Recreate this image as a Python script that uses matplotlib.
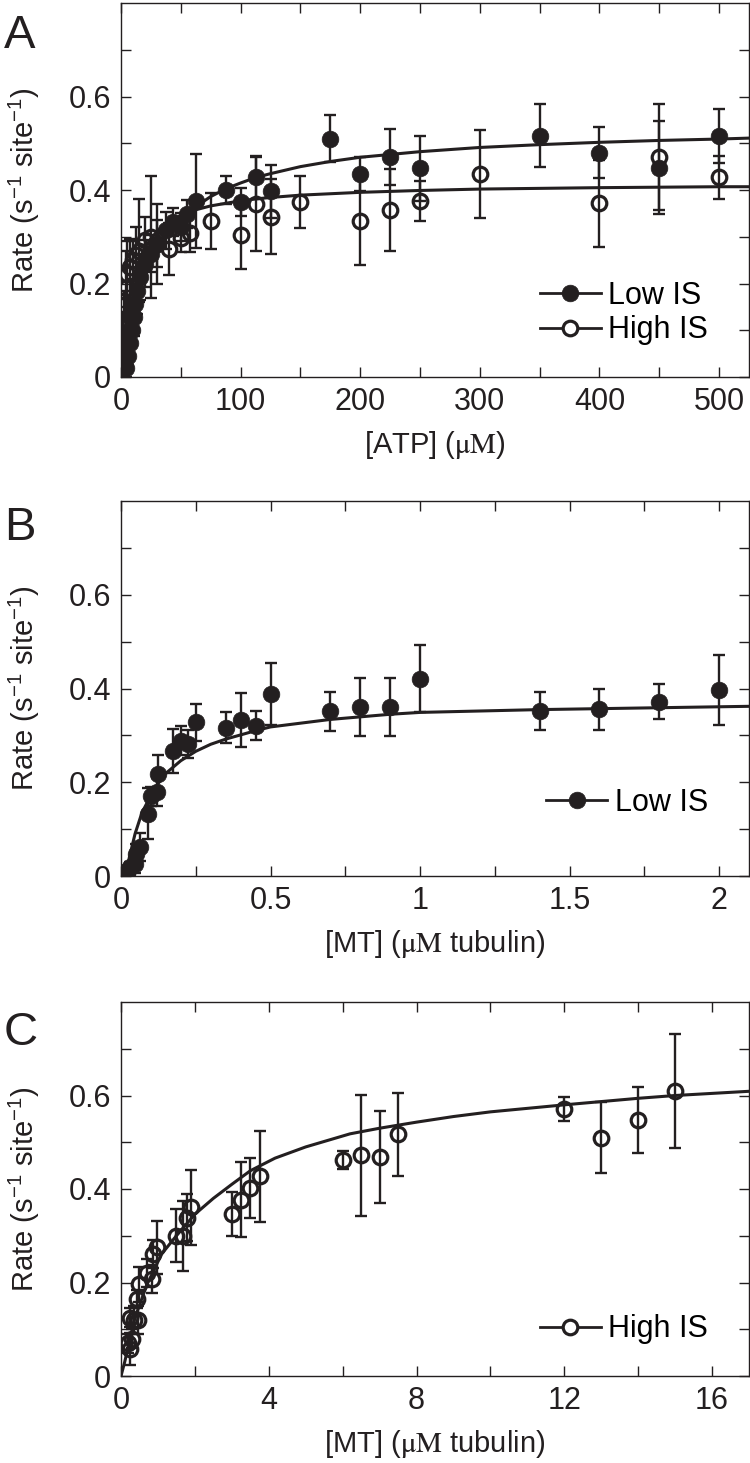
"""Three-panel kinetics figure: ATPase rate vs [ATP] and vs [MT]."""

import matplotlib

matplotlib.use("Agg")
import matplotlib.pyplot as plt
from matplotlib.lines import Line2D
from matplotlib.ticker import FixedLocator, FuncFormatter

INK = "#231f20"

plt.rcParams["font.family"] = ["Liberation Sans", "DejaVu Sans"]
plt.rcParams["mathtext.fontset"] = "stix"
plt.rcParams["mathtext.default"] = "regular"

# ---- panel A: rate vs [ATP] (uM) ----
a_low_x = [4, 6, 7.5, 9, 10.5, 12, 13.5, 16, 20, 25, 30, 37.5, 43.75, 50, 55, 62.5,
           87.5, 100, 112.5, 125, 175, 200, 225, 250, 350, 400, 450, 500]
a_low_y = [0.02, 0.045, 0.072, 0.10, 0.128, 0.157, 0.185, 0.214, 0.242, 0.264, 0.285,
           0.314, 0.331, 0.32, 0.349, 0.377, 0.40, 0.374, 0.427, 0.397, 0.51, 0.434,
           0.471, 0.446, 0.516, 0.48, 0.448, 0.515]
a_low_err = [0.02, 0.02, 0.03, 0.03, 0.04, 0.04, 0.05, 0.05, 0.05, 0.04, 0.05, 0.04,
             0.03, 0.03, 0.03, 0.1, 0.03, 0.03, 0.046, 0.057, 0.05, 0.036, 0.06, 0.07,
             0.067, 0.054, 0.1, 0.058]

a_high_x = [1, 1.5, 2, 2.5, 4, 5, 7.5, 10, 12.5, 15, 20, 25, 30, 40, 50, 57.5, 75,
            100, 112.5, 125, 150, 200, 225, 250, 300, 400, 450, 500]
a_high_y = [0.028, 0.065, 0.105, 0.155, 0.19, 0.22, 0.235, 0.25, 0.26, 0.27, 0.292,
            0.30, 0.285, 0.274, 0.298, 0.308, 0.333, 0.304, 0.37, 0.343, 0.374, 0.333,
            0.357, 0.376, 0.434, 0.372, 0.47, 0.427]
a_high_err = [0.015, 0.02, 0.03, 0.03, 0.08, 0.07, 0.06, 0.04, 0.06, 0.11, 0.05, 0.13,
              0.085, 0.056, 0.03, 0.04, 0.06, 0.074, 0.1, 0.08, 0.056, 0.094, 0.088,
              0.043, 0.094, 0.093, 0.113, 0.046]

# fitted curves
a_fit_low_x = [0, 2.5, 5, 10, 15, 20, 25, 30, 40, 50, 60, 75, 88, 100, 113, 125, 150,
               175, 200, 225, 250, 300, 350, 400, 450, 500, 525]
a_fit_low_y = [0, 0.042, 0.077, 0.135, 0.18, 0.216, 0.245, 0.27, 0.309, 0.338, 0.36,
               0.386, 0.403, 0.415, 0.427, 0.435, 0.45, 0.461, 0.47, 0.476, 0.482,
               0.491, 0.497, 0.502, 0.506, 0.509, 0.511]
a_fit_high_x = [0, 2.5, 5, 10, 15, 20, 25, 30, 40, 50, 60, 75, 100, 113, 125, 150, 200,
                225, 250, 300, 400, 450, 500, 525]
a_fit_high_y = [0, 0.083, 0.138, 0.208, 0.249, 0.277, 0.296, 0.311, 0.332, 0.346,
                0.356, 0.366, 0.377, 0.381, 0.384, 0.389, 0.395, 0.397, 0.399, 0.402,
                0.405, 0.406, 0.407, 0.407]

# ---- panel B: rate vs [MT], low ionic strength ----
b_x = [0.02, 0.025, 0.03, 0.047, 0.05, 0.064, 0.09, 0.1, 0.12, 0.125, 0.175, 0.2,
       0.225, 0.25, 0.35, 0.4, 0.45, 0.5, 0.7, 0.8, 0.9, 1.0, 1.4, 1.6, 1.8, 2.0]
b_y = [0.005, 0.012, 0.02, 0.026, 0.048, 0.062, 0.133, 0.17, 0.179, 0.218, 0.267,
       0.289, 0.282, 0.328, 0.316, 0.333, 0.321, 0.388, 0.351, 0.361, 0.36, 0.421,
       0.352, 0.356, 0.372, 0.397]
b_err = [0.005, 0.01, 0.01, 0.02, 0.02, 0.03, 0.055, 0.02, 0.03, 0.04, 0.047, 0.03,
         0.03, 0.04, 0.033, 0.058, 0.031, 0.066, 0.042, 0.062, 0.062, 0.071, 0.04,
         0.044, 0.037, 0.074]
b_fit_x = [0.013, 0.03, 0.047, 0.07, 0.1, 0.125, 0.15, 0.2, 0.25, 0.3, 0.35, 0.45,
           0.5, 0.7, 0.9, 1.0, 1.4, 1.6, 1.8, 2.0, 2.1]
b_fit_y = [0.0, 0.045, 0.09, 0.135, 0.172, 0.198, 0.219, 0.246, 0.266, 0.281, 0.292,
           0.31, 0.318, 0.334, 0.345, 0.349, 0.355, 0.357, 0.359, 0.361, 0.362]

# ---- panel C: rate vs [MT], high ionic strength ----
c_x = [0.2, 0.25, 0.3, 0.25, 0.35, 0.45, 0.42, 0.5, 0.7, 0.83, 0.875, 0.97, 1.5,
       1.69, 1.78, 1.9, 3.0, 3.25, 3.5, 3.75, 6.0, 6.5, 7.0, 7.5, 12, 13, 14, 15]
c_y = [0.07, 0.058, 0.08, 0.125, 0.12, 0.12, 0.165, 0.196, 0.22, 0.208, 0.261, 0.275,
       0.30, 0.30, 0.339, 0.361, 0.346, 0.377, 0.403, 0.427, 0.462, 0.472, 0.469,
       0.517, 0.571, 0.51, 0.547, 0.609]
c_err = [0.02, 0.035, 0.02, 0.02, 0.03, 0.03, 0.02, 0.037, 0.03, 0.03, 0.03, 0.057,
         0.057, 0.075, 0.05, 0.08, 0.047, 0.08, 0.064, 0.097, 0.02, 0.13, 0.098, 0.089,
         0.025, 0.076, 0.071, 0.122]
c_fit_x = [0, 0.1, 0.38, 0.7, 1.1, 1.5, 2.0, 2.5, 3.0, 3.5, 4.17, 5, 6.2, 7, 8, 9, 10,
           12, 14, 15, 17]
c_fit_y = [0, 0.03, 0.125, 0.195, 0.261, 0.3, 0.346, 0.38, 0.41, 0.439, 0.466, 0.49,
           0.518, 0.53, 0.543, 0.555, 0.565, 0.58, 0.594, 0.6, 0.609]

Y_MAJOR = [0, 0.2, 0.4, 0.6]
Y_MINOR = [0.1, 0.3, 0.5, 0.7]
YLABEL = "Rate (s$^{-1}$ site$^{-1}$)"

FS = 22
FS_LABEL = 21
MS_FILLED = 12
MS_OPEN = 10.5


def style(ax, xlim, xmajor, xminor):
    ax.set_xlim(*xlim)
    ax.set_ylim(0, 0.8)
    ax.xaxis.set_major_locator(FixedLocator(xmajor))
    ax.xaxis.set_minor_locator(FixedLocator(xminor))
    ax.yaxis.set_major_locator(FixedLocator(Y_MAJOR))
    ax.yaxis.set_minor_locator(FixedLocator(Y_MINOR))
    fmt = FuncFormatter(lambda v, _: f"{v:g}")
    ax.xaxis.set_major_formatter(fmt)
    ax.yaxis.set_major_formatter(fmt)
    for side in ax.spines.values():
        side.set_linewidth(1.0)
        side.set_color(INK)
    ax.tick_params(which="both", direction="in", top=True, right=True,
                   length=7, width=1.0, color=INK, labelsize=FS, labelcolor=INK)
    ax.tick_params(axis="x", pad=7)
    ax.tick_params(axis="y", pad=7)
    ax.set_ylabel(YLABEL, fontsize=FS_LABEL, color=INK)
    ax.yaxis.set_label_coords(-0.125, 0.5)
    ax.xaxis.set_label_coords(0.5, -0.14)


def series(ax, x, y, err, filled):
    ax.errorbar(x, y, yerr=err, fmt="none", ecolor=INK, elinewidth=1.7,
                capsize=4, capthick=1.7, zorder=2)
    if filled:
        ax.plot(x, y, "o", ms=MS_FILLED, mfc=INK, mec=INK, mew=0.5,
                ls="none", zorder=3)
    else:
        ax.plot(x, y, "o", ms=MS_OPEN, mfc="none", mec=INK, mew=2.3,
                ls="none", zorder=3)


def handle(filled):
    if filled:
        return Line2D([], [], color=INK, lw=2, marker="o", ms=MS_FILLED,
                      mfc=INK, mec=INK, mew=0.5)
    return Line2D([], [], color=INK, lw=2, marker="o", ms=MS_OPEN,
                  mfc="white", mec=INK, mew=2.3)


def legend(ax, handles, labels, anchor):
    ax.legend(handles, labels, loc="lower right", bbox_to_anchor=anchor,
              frameon=False, fontsize=FS, handlelength=2.0, handletextpad=0.25,
              labelspacing=0.15, borderaxespad=0, borderpad=0)


fig = plt.figure(figsize=(7.5, 14.63), dpi=100)
W, H = 750, 1463
left = 121 / W
width = 628 / W

ax_a = fig.add_axes([left, (H - 377) / H, width, 374 / H])
ax_b = fig.add_axes([left, (H - 876) / H, width, 375 / H])
ax_c = fig.add_axes([left, (H - 1376) / H, width, 374 / H])

# A
ax_a.plot(a_fit_low_x, a_fit_low_y, color=INK, lw=2.2, zorder=2.5)
ax_a.plot(a_fit_high_x, a_fit_high_y, color=INK, lw=2.2, zorder=2.5)
series(ax_a, a_high_x, a_high_y, a_high_err, filled=False)
series(ax_a, a_low_x, a_low_y, a_low_err, filled=True)
style(ax_a, (0, 525), [0, 100, 200, 300, 400, 500], [50, 150, 250, 350, 450])
ax_a.set_xlabel(r"[ATP] ($\mathrm{\mu M}$)", fontsize=FS_LABEL, color=INK)
legend(ax_a, [handle(True), handle(False)], ["Low IS", "High IS"], (0.935, 0.085))

# B
ax_b.plot(b_fit_x, b_fit_y, color=INK, lw=2.2, zorder=2.5)
series(ax_b, b_x, b_y, b_err, filled=True)
style(ax_b, (0, 2.1), [0, 0.5, 1, 1.5, 2], [0.25, 0.75, 1.25, 1.75])
ax_b.set_xlabel(r"[MT] ($\mathrm{\mu M}$ tubulin)", fontsize=FS_LABEL, color=INK)
legend(ax_b, [handle(True)], ["Low IS"], (0.935, 0.155))

# C
ax_c.plot(c_fit_x, c_fit_y, color=INK, lw=2.2, zorder=2.5)
series(ax_c, c_x, c_y, c_err, filled=False)
style(ax_c, (0, 17), [0, 4, 8, 12, 16], [2, 6, 10, 14])
ax_c.set_xlabel(r"[MT] ($\mathrm{\mu M}$ tubulin)", fontsize=FS_LABEL, color=INK)
legend(ax_c, [handle(False)], ["High IS"], (0.935, 0.085))

for letter, base in (("A", 48), ("B", 540), ("C", 1045)):
    fig.text(4 / W, 1 - base / H, letter, fontsize=34, color=INK,
             ha="left", va="baseline")

fig.savefig("out.png", dpi=100)
